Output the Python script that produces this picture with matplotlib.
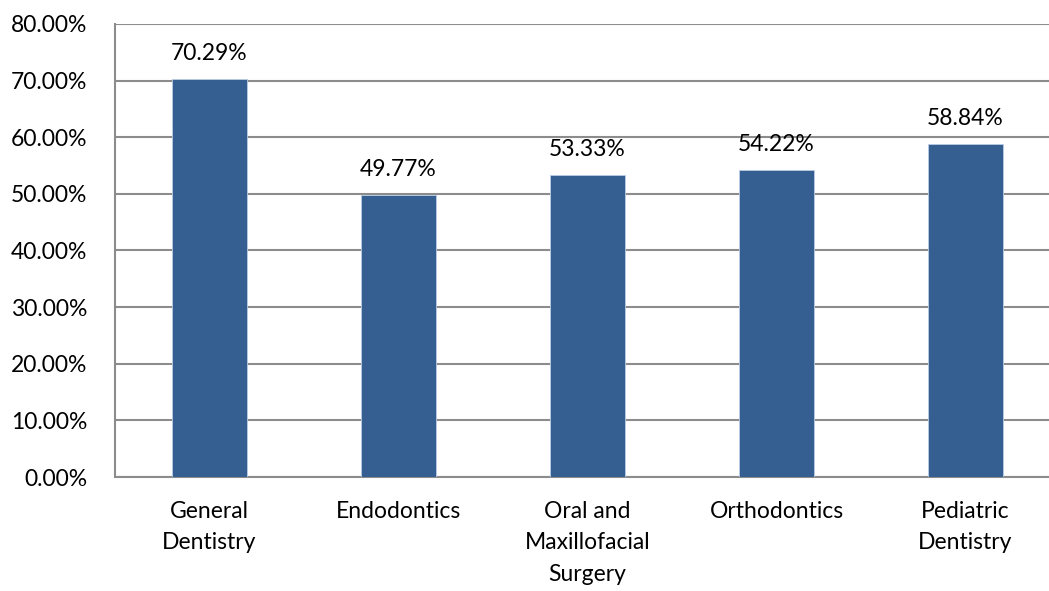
import numpy as np
import matplotlib.pyplot as plt

# Chart data
categories = ['General\nDentistry', 'Endodontics', 'Oral and\nMaxillofacial\nSurgery',
              'Orthodontics', 'Pediatric\nDentistry']
values = [70.29, 49.77, 53.33, 54.22, 58.84]
y_ticks = [0, 10, 20, 30, 40, 50, 60, 70, 80]

plt.rcParams['font.family'] = ['Lato', 'DejaVu Sans']

W, H = 1049, 591
fig = plt.figure(figsize=(W / 100, H / 100), dpi=100)
# axes spans pixel x 115..1060 (right edge cut off), y 24..477
ax = fig.add_axes([115 / W, 1 - 477 / H, 945 / W, 453 / H])

x = np.arange(len(categories))
ax.bar(x, values, width=0.4, color='#365F91', edgecolor='#B9CDE5', linewidth=0.6, zorder=3)

for xi, v in zip(x, values):
    ax.annotate(f'{v:.2f}%', (xi, v), xytext=(0, 11), textcoords='offset points',
                ha='center', va='bottom', fontsize=16.5, color='#000000')

ax.set_xlim(-0.5, len(categories) - 0.5)
ax.set_ylim(0, 80)
ax.set_yticks(y_ticks)
ax.set_yticklabels([f'{t:.2f}%' for t in y_ticks], fontsize=16.5)
ax.set_xticks(x)
ax.set_xticklabels(categories, fontsize=16.5, linespacing=1.62)
ax.tick_params(axis='y', length=0, pad=20)
ax.tick_params(axis='x', length=0, pad=17)

ax.grid(axis='y', color='#8C8C8C', linewidth=1.5, zorder=0)
ax.spines['top'].set_visible(False)
ax.spines['right'].set_visible(False)
for s in ['left', 'bottom']:
    ax.spines[s].set_color('#8C8C8C')
    ax.spines[s].set_linewidth(1.5)

fig.savefig('out.png', dpi=100)
